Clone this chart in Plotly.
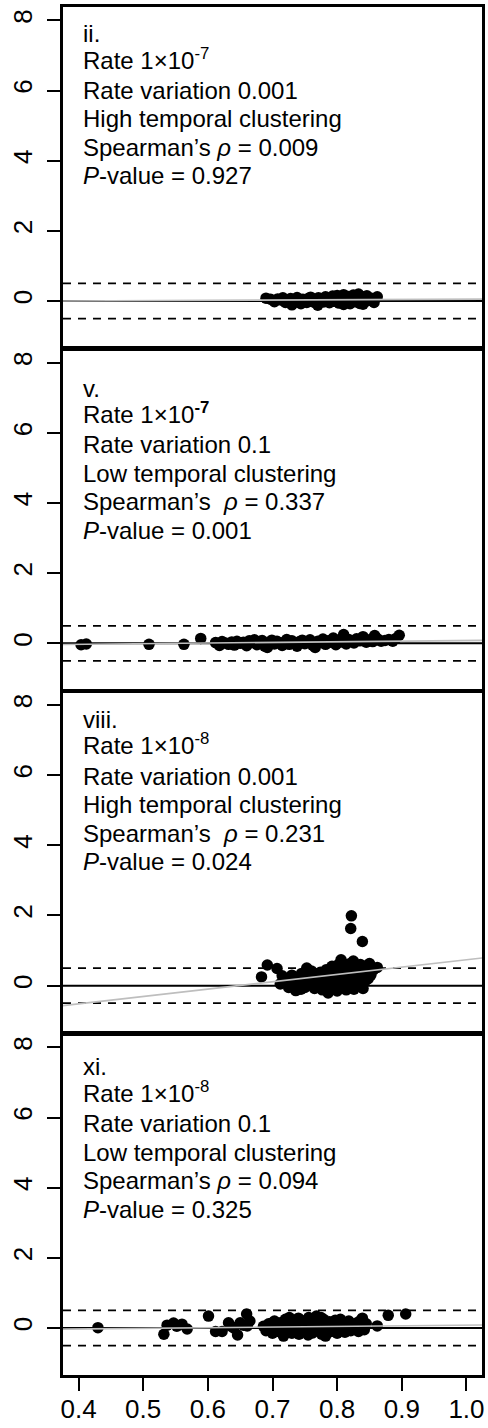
import plotly.graph_objects as go

# ---------------- data ----------------
X_RANGE = [0.376, 1.024]
Y_RANGE = [-1.34, 8.38]
x_ticks = [0.4, 0.5, 0.6, 0.7, 0.8, 0.9, 1.0]
x_tick_labels = ["0.4", "0.5", "0.6", "0.7", "0.8", "0.9", "1.0"]
y_ticks = [0, 2, 4, 6, 8]
y_tick_labels = ["0", "2", "4", "6", "8"]

zero_level = 0.0
dash_levels = [-0.5, 0.5]

# panel ii
p1_x = [0.690, 0.697, 0.703, 0.708, 0.713, 0.716, 0.720, 0.724, 0.728, 0.731, 0.735, 0.738,
        0.741, 0.744, 0.747, 0.750, 0.753, 0.756, 0.759, 0.762, 0.765, 0.768, 0.771, 0.774,
        0.777, 0.779, 0.782, 0.785, 0.788, 0.790, 0.793, 0.795, 0.798, 0.800, 0.803, 0.805,
        0.808, 0.810, 0.813, 0.815, 0.818, 0.820, 0.823, 0.825, 0.828, 0.830, 0.833, 0.835,
        0.838, 0.840, 0.843, 0.846, 0.850, 0.853, 0.857, 0.862, 0.730, 0.770, 0.810, 0.840]
p1_y = [0.08, 0.05, -0.02, 0.06, 0.03, 0.09, -0.04, 0.02, 0.07, -0.06, 0.04, 0.10,
        -0.01, -0.08, 0.05, 0.02, -0.04, 0.08, 0.11, -0.02, 0.04, -0.07, 0.09, 0.01,
        0.06, -0.03, 0.12, 0.03, -0.05, 0.08, 0.14, -0.01, 0.05, 0.16, -0.06, 0.10,
        0.02, 0.18, -0.04, 0.07, 0.13, -0.08, 0.04, 0.17, -0.02, 0.09, 0.20, -0.07,
        0.05, 0.12, -0.03, 0.15, 0.02, 0.08, -0.04, 0.12, -0.11, -0.12, -0.10, -0.09]

# panel v
p2_x = [0.404, 0.412, 0.509, 0.563, 0.589,
        0.612, 0.618, 0.622, 0.627, 0.632, 0.637, 0.641, 0.645, 0.650, 0.655, 0.660, 0.664,
        0.668, 0.672, 0.676, 0.680, 0.684, 0.688, 0.692, 0.695, 0.699, 0.703, 0.707, 0.711,
        0.715, 0.719, 0.722, 0.726, 0.730, 0.734, 0.738, 0.742, 0.746, 0.750, 0.754, 0.758,
        0.762, 0.766, 0.770, 0.774, 0.778, 0.782, 0.786, 0.790, 0.794, 0.798, 0.802, 0.806,
        0.810, 0.814, 0.818, 0.822, 0.826, 0.830, 0.835, 0.840, 0.845, 0.850, 0.855, 0.858,
        0.863, 0.868, 0.874, 0.880, 0.886, 0.891, 0.896]
p2_y = [-0.04, -0.02, -0.03, -0.03, 0.14,
        0.02, -0.06, 0.05, 0.01, -0.03, 0.04, -0.05, 0.06, 0.00, 0.03, -0.07, 0.07,
        0.02, 0.10, -0.04, 0.05, 0.08, -0.08, -0.12, 0.03, 0.09, -0.02, 0.06, 0.01,
        -0.06, 0.04, 0.11, -0.03, 0.07, 0.02, -0.08, 0.05, 0.09, -0.01, 0.04, 0.10,
        -0.05, -0.12, 0.06, 0.02, 0.12, -0.03, 0.07, 0.03, 0.15, -0.04, 0.09, 0.04,
        0.25, -0.02, 0.11, 0.06, 0.01, 0.13, 0.07, 0.19, 0.03, 0.10, 0.05, 0.22,
        0.12, 0.06, 0.08, 0.11, 0.06, 0.14, 0.23]

# panel viii
p3_x = [0.822, 0.821, 0.839,
        0.683, 0.692, 0.707, 0.715, 0.720, 0.725, 0.728, 0.732, 0.736, 0.740, 0.744, 0.748,
        0.753, 0.755, 0.758, 0.762, 0.765, 0.768, 0.771, 0.774, 0.777, 0.780, 0.783, 0.786,
        0.787, 0.790, 0.792, 0.794, 0.796, 0.798, 0.800, 0.802, 0.804, 0.806, 0.808, 0.810,
        0.812, 0.814, 0.816, 0.818, 0.820, 0.822, 0.824, 0.826, 0.828, 0.830, 0.832, 0.834,
        0.836, 0.838, 0.840, 0.842, 0.844, 0.846, 0.850, 0.852, 0.856, 0.862,
        0.745, 0.760, 0.770, 0.775, 0.785, 0.795, 0.805, 0.815, 0.825, 0.835, 0.845, 0.750,
        0.730, 0.810, 0.800, 0.712, 0.738, 0.766, 0.779, 0.789, 0.799, 0.817, 0.827, 0.837,
        0.848, 0.843, 0.833]
p3_y = [1.99, 1.63, 1.26,
        0.25, 0.59, 0.49, 0.28, 0.12, -0.05, 0.18, 0.05, -0.14, 0.22, -0.10, 0.10,
        0.50, 0.30, 0.02, 0.18, -0.08, 0.28, 0.08, 0.38, -0.12, 0.20, 0.45, -0.21,
        0.05, 0.32, 0.55, 0.12, -0.10, 0.40, 0.22, 0.60, 0.00, 0.74, 0.30, 0.15,
        0.50, -0.12, 0.38, 0.62, 0.08, 0.25, 0.45, -0.10, 0.55, 0.18, 0.35, 0.02,
        0.60, 0.28, -0.08, 0.42, 0.15, 0.52, 0.63, 0.30, 0.45, 0.52,
        0.35, 0.42, 0.00, 0.15, 0.25, 0.48, -0.05, 0.20, 0.70, 0.40, 0.30, -0.05,
        0.30, 0.42, -0.15, 0.05, 0.15, 0.35, 0.10, -0.05, 0.05, 0.10, 0.30, 0.15,
        0.20, 0.55, 0.48]

# panel xi
p4_x = [0.430,
        0.532, 0.537, 0.547, 0.552, 0.560, 0.568,
        0.601, 0.612, 0.622, 0.632, 0.636, 0.640, 0.646, 0.650, 0.655, 0.660, 0.661, 0.665,
        0.686, 0.690, 0.694, 0.698, 0.700, 0.703, 0.706, 0.709, 0.712, 0.715, 0.717, 0.720,
        0.722, 0.725, 0.726, 0.729, 0.732, 0.735, 0.738, 0.741, 0.744, 0.747, 0.750, 0.753,
        0.756, 0.759, 0.762, 0.765, 0.768, 0.770, 0.773, 0.776, 0.779, 0.782, 0.785, 0.788,
        0.791, 0.794, 0.797, 0.800, 0.803, 0.806, 0.809, 0.812, 0.815, 0.818, 0.821, 0.824,
        0.827, 0.830, 0.833, 0.836, 0.839, 0.842, 0.845,
        0.862, 0.879, 0.906,
        0.710, 0.730, 0.740, 0.760, 0.775, 0.790, 0.805, 0.820, 0.835, 0.755, 0.720, 0.700]
p4_y = [0.01,
        -0.18, 0.08, 0.14, 0.05, 0.11, -0.03,
        0.34, -0.10, -0.10, 0.15, 0.05, 0.00, -0.20, 0.15, 0.08, 0.40, 0.06, 0.20,
        0.05, -0.08, 0.12, 0.00, -0.15, 0.20, 0.06, -0.10, 0.15, -0.03, -0.23, 0.25,
        0.08, -0.12, 0.30, 0.02, 0.18, -0.08, 0.10, -0.18, 0.22, 0.00, 0.14, -0.10,
        0.30, 0.05, -0.14, 0.20, 0.34, -0.04, 0.10, -0.18, 0.25, -0.23, 0.06, 0.18,
        -0.10, 0.02, 0.22, -0.15, 0.12, -0.05, 0.16, -0.12, 0.08, 0.20, -0.08, 0.10,
        0.02, 0.14, -0.10, 0.06, 0.28, -0.05, 0.12,
        0.06, 0.36, 0.40,
        0.10, -0.15, 0.28, 0.12, 0.30, 0.08, 0.25, 0.05, 0.20, -0.20, -0.05, 0.15]

# fitted trend lines (intercept, slope)
fit_intercepts = [-0.03, -0.10, -1.36, -0.10]
fit_slopes = [0.08, 0.18, 2.10, 0.18]

panel_texts = [
    ["ii.", "Rate 1×10<sup>-7</sup>", "Rate variation 0.001", "High temporal clustering",
     "Spearman’s <i>ρ</i> = 0.009", "<i>P</i>-value = 0.927"],
    ["v.", "Rate 1×10<sup><b>-7</b></sup>", "Rate variation 0.1", "Low temporal clustering",
     "Spearman’s  <i>ρ</i> = 0.337", "<i>P</i>-value = 0.001"],
    ["viii.", "Rate 1×10<sup>-8</sup>", "Rate variation 0.001", "High temporal clustering",
     "Spearman’s  <i>ρ</i> = 0.231", "<i>P</i>-value = 0.024"],
    ["xi.", "Rate 1×10<sup>-8</sup>", "Rate variation 0.1", "Low temporal clustering",
     "Spearman’s <i>ρ</i> = 0.094", "<i>P</i>-value = 0.325"],
]
text_first_y = [7.62, 7.275, 7.59, 7.44]
text_step = 0.81
sup_line_lift = 0.10   # the superscript line's box is taller; lift it to keep the baseline
text_x = 0.4045

xs = [p1_x, p2_x, p3_x, p4_x]
ys = [p1_y, p2_y, p3_y, p4_y]

# ---------------- figure ----------------
W, H = 488, 1428
M_T, M_B, M_L, M_R = 7, 53, 63, 6
plot_h = H - M_T - M_B
panel_px = 341
gap_px = (plot_h - 4 * panel_px) / 3.0

FONT = "Liberation Sans, Arial, Helvetica, sans-serif"
fig = go.Figure()
layout = {}
for k in range(4):
    sfx = "" if k == 0 else str(k + 1)
    xa, ya = "x" + sfx, "y" + sfx
    top = k * (panel_px + gap_px)
    bot = top + panel_px
    dom = [1 - bot / plot_h, 1 - top / plot_h]

    fig.add_trace(go.Scatter(x=xs[k], y=ys[k], mode="markers", xaxis=xa, yaxis=ya,
                             marker=dict(color="black", size=11.5, line=dict(width=0)),
                             showlegend=False, hoverinfo="skip"))
    fig.add_trace(go.Scatter(x=X_RANGE, y=[zero_level, zero_level], mode="lines",
                             xaxis=xa, yaxis=ya, line=dict(color="black", width=2),
                             showlegend=False, hoverinfo="skip"))
    for lv in dash_levels:
        fig.add_trace(go.Scatter(x=X_RANGE, y=[lv, lv], mode="lines", xaxis=xa, yaxis=ya,
                                 line=dict(color="black", width=1.8, dash="8px,7px"),
                                 showlegend=False, hoverinfo="skip"))
    fit_y = [fit_intercepts[k] + fit_slopes[k] * xv for xv in X_RANGE]
    fig.add_trace(go.Scatter(x=X_RANGE, y=fit_y, mode="lines", xaxis=xa, yaxis=ya,
                             line=dict(color="rgb(190,190,190)", width=1.6),
                             showlegend=False, hoverinfo="skip"))

    last = (k == 3)
    layout["xaxis" + sfx] = dict(
        domain=[0, 1], range=X_RANGE, anchor=ya, showgrid=False, zeroline=False,
        showline=True, linecolor="black", linewidth=2.5, mirror=True, automargin=False,
        tickvals=x_ticks, ticktext=x_tick_labels,
        ticks="outside" if last else "", ticklen=13, tickwidth=1.5, tickcolor="black",
        showticklabels=last, ticklabelstandoff=-4,
        tickfont=dict(family=FONT, size=26, color="black"),
    )
    layout["yaxis" + sfx] = dict(
        domain=dom, range=Y_RANGE, anchor=xa, showgrid=False, zeroline=False,
        showline=True, linecolor="black", linewidth=2.5, mirror=True, automargin=False,
        tickvals=y_ticks, ticktext=y_tick_labels, ticks="outside", ticklen=13,
        tickwidth=1.5, tickcolor="black", tickangle=-90, ticklabelstandoff=5,
        tickfont=dict(family=FONT, size=26, color="black"),
    )

    for i, line in enumerate(panel_texts[k]):
        yv = text_first_y[k] - i * text_step
        if "<sup>" in line:
            yv += sup_line_lift
        fig.add_annotation(x=text_x, y=yv, xref=xa, yref=ya,
                           text=line, showarrow=False, xanchor="left", yanchor="middle",
                           font=dict(family=FONT, size=24, color="black"))

fig.update_layout(
    width=W, height=H, margin=dict(l=M_L, r=M_R, t=M_T, b=M_B),
    paper_bgcolor="white", plot_bgcolor="white", showlegend=False, **layout,
)
fig.write_html("out.html")
